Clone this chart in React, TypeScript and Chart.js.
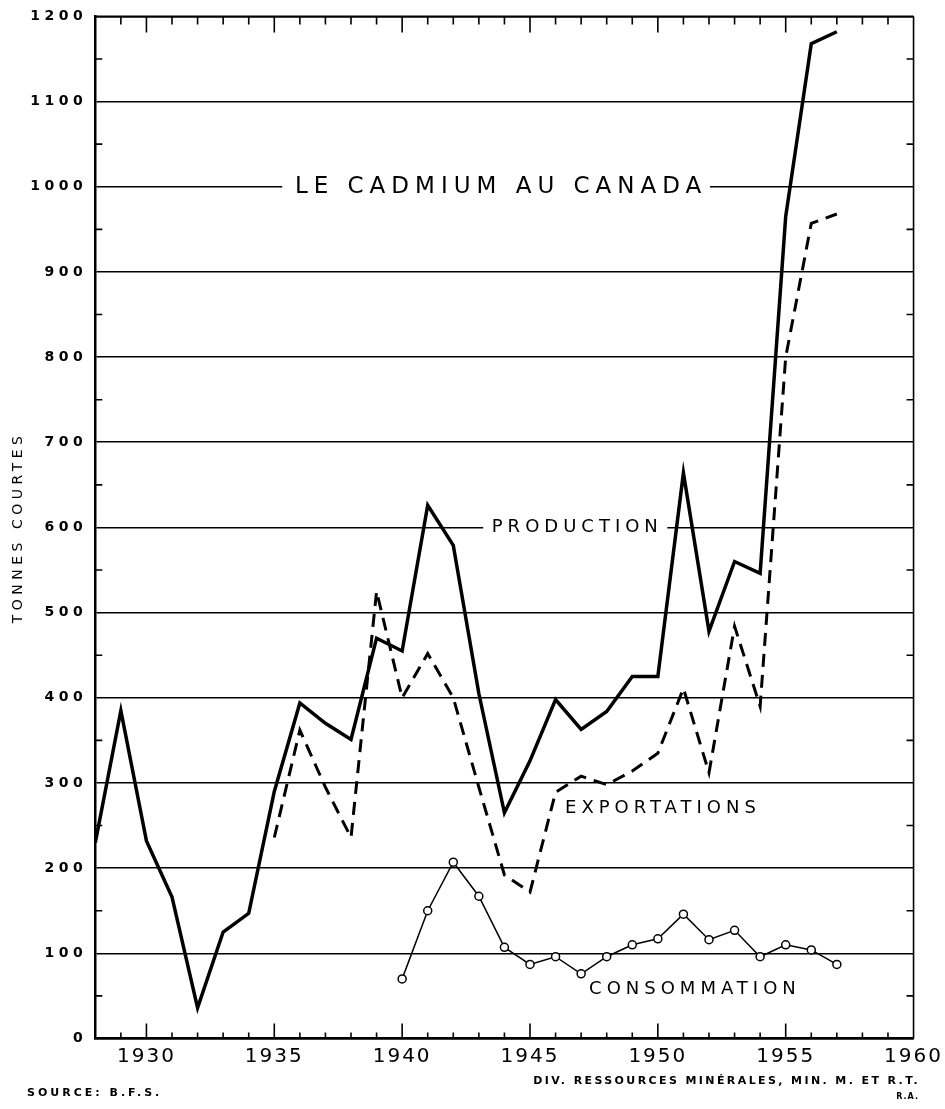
import React, { useEffect, useRef } from 'react';
import { Chart, registerables } from 'chart.js';

Chart.register(...registerables);

// ---- Data (short tons) ----
const productionYears = [1928, 1929, 1930, 1931, 1932, 1933, 1934, 1935, 1936, 1937, 1938, 1939, 1940, 1941, 1942, 1943, 1944, 1945, 1946, 1947, 1948, 1949, 1950, 1951, 1952, 1953, 1954, 1955, 1956, 1957];
const productionValues = [230, 385, 232, 166, 36, 125, 147, 290, 394, 370, 351, 470, 455, 626, 579, 405, 265, 326, 398, 363, 384, 425, 425, 664, 478, 560, 546, 965, 1168, 1182];

const exportYears = [1935, 1936, 1937, 1938, 1939, 1940, 1941, 1942, 1943, 1944, 1945, 1946, 1947, 1948, 1949, 1950, 1951, 1952, 1953, 1954, 1955, 1956, 1957];
const exportValues = [236, 362, 295, 236, 525, 400, 452, 400, 295, 192, 172, 289, 308, 298, 314, 335, 411, 312, 484, 390, 800, 957, 968];

const consumptionYears = [1940, 1941, 1942, 1943, 1944, 1945, 1946, 1947, 1948, 1949, 1950, 1951, 1952, 1953, 1954, 1955, 1956, 1957];
const consumptionValues = [70, 150, 207, 167, 107, 87, 96, 76, 96, 110, 117, 146, 116, 127, 96, 110, 104, 87];

const xMin = 1928;
const xMax = 1960;
const yMin = 0;
const yMax = 1200;
const yStep = 100;

const chartTitle = 'LE CADMIUM AU CANADA';
const yAxisTitle = 'TONNES COURTES';
const sourceText = 'SOURCE: B.F.S.';
const creditText = 'DIV. RESSOURCES MINÉRALES, MIN. M. ET R.T.';
const creditSub = 'R.A.';

// in-chart labels (anchored in data units)
const seriesLabels = [
  { text: chartTitle, x: 1943.87, y: 1000, size: 23, spacing: 6 },
  { text: 'PRODUCTION', x: 1946.85, y: 600, size: 18, spacing: 5 },
  { text: 'EXPORTATIONS', x: 1950.2, y: 270, size: 18, spacing: 5 },
  { text: 'CONSOMMATION', x: 1951.45, y: 58, size: 18, spacing: 5 },
];
// gridline interruptions behind labels
const gridGaps = [
  { y: 1000, from: 1935.31, to: 1952.04 },
  { y: 600, from: 1943.17, to: 1950.37 },
];

const toPoints = (xs: number[], ys: number[]) => xs.map((x, i) => ({ x, y: ys[i] }));

const FONT = '"DejaVu Sans", "Liberation Sans", sans-serif';

export default function App() {
  const ref = useRef<HTMLCanvasElement>(null);

  useEffect(() => {
    const canvas = ref.current;
    if (!canvas) return;

    const decor = {
      id: 'decor',
      beforeDraw(chart: any) {
        const sx = chart.scales.x;
        const sy = chart.scales.y;
        const patch = (s: any, sp: string) => {
          if (s.__patched) return;
          const origLabels = s.drawLabels.bind(s);
          s.drawLabels = (area: any) => {
            const c = s.ctx;
            c.save();
            c.letterSpacing = sp;
            origLabels(area);
            c.restore();
          };
          const origTitle = s.drawTitle.bind(s);
          s.drawTitle = () => {
            const c = s.ctx;
            c.save();
            c.letterSpacing = '4.5px';
            origTitle();
            c.restore();
          };
          s.__patched = true;
        };
        patch(sx, '2px');
        patch(sy, '4.5px');
      },
      beforeDatasetsDraw(chart: any) {
        const { ctx, scales } = chart;
        const x = scales.x;
        const y = scales.y;
        ctx.save();
        ctx.fillStyle = '#ffffff';
        gridGaps.forEach((g) => {
          const py = y.getPixelForValue(g.y);
          const x0 = x.getPixelForValue(g.from);
          const x1 = x.getPixelForValue(g.to);
          ctx.fillRect(x0, py - 2.5, x1 - x0, 5);
        });
        ctx.restore();
      },
      afterDatasetsDraw(chart: any) {
        const { ctx, chartArea, scales } = chart;
        const x = scales.x;
        const y = scales.y;
        const { left, right, top, bottom } = chartArea;
        ctx.save();
        ctx.strokeStyle = '#000';
        // top and right borders
        ctx.lineWidth = 2;
        ctx.beginPath();
        ctx.moveTo(left, top);
        ctx.lineTo(right, top);
        ctx.stroke();
        ctx.lineWidth = 1.6;
        ctx.beginPath();
        ctx.moveTo(right, top);
        ctx.lineTo(right, bottom);
        ctx.stroke();
        // yearly inward ticks, top and bottom
        ctx.lineWidth = 1.6;
        for (let yr = xMin + 1; yr < xMax; yr++) {
          const px = x.getPixelForValue(yr);
          const major = yr % 5 === 0;
          ctx.beginPath();
          ctx.moveTo(px, top);
          ctx.lineTo(px, top + (major ? 16 : 8));
          ctx.moveTo(px, bottom);
          ctx.lineTo(px, bottom - (major ? 15 : 6));
          ctx.stroke();
        }
        // half-step inward ticks, left and right
        for (let v = yMin + yStep / 2; v < yMax; v += yStep) {
          const py = y.getPixelForValue(v);
          ctx.beginPath();
          ctx.moveTo(left, py);
          ctx.lineTo(left + 7, py);
          ctx.moveTo(right, py);
          ctx.lineTo(right - 7, py);
          ctx.stroke();
        }
        // in-chart labels
        ctx.fillStyle = '#000';
        ctx.textAlign = 'center';
        ctx.textBaseline = 'middle';
        seriesLabels.forEach((l) => {
          ctx.font = `${l.size}px ${FONT}`;
          ctx.letterSpacing = `${l.spacing}px`;
          ctx.fillText(l.text, x.getPixelForValue(l.x), y.getPixelForValue(l.y));
        });
        ctx.restore();
      },
      afterDraw(chart: any) {
        const { ctx } = chart;
        ctx.save();
        ctx.fillStyle = '#000';
        ctx.textBaseline = 'middle';
        ctx.font = `bold 11px ${FONT}`;
        ctx.letterSpacing = '3px';
        ctx.textAlign = 'left';
        ctx.fillText(sourceText, 27, 1093);
        ctx.letterSpacing = '2.4px';
        ctx.textAlign = 'right';
        ctx.fillText(creditText, 920, 1081);
        ctx.font = `bold 8px ${FONT}`;
        ctx.letterSpacing = '1px';
        ctx.fillText(creditSub, 919, 1097);
        ctx.restore();
      },
    };

    const chart = new Chart(canvas, {
      type: 'line',
      data: {
        datasets: [
          {
            label: 'Production',
            data: toPoints(productionYears, productionValues),
            borderColor: '#000',
            borderWidth: 3.5,
            pointRadius: 0,
            tension: 0,
            fill: false,
          },
          {
            label: 'Exportations',
            data: toPoints(exportYears, exportValues),
            borderColor: '#000',
            borderWidth: 3,
            borderDash: [13, 8],
            pointRadius: 0,
            tension: 0,
            fill: false,
          },
          {
            label: 'Consommation',
            data: toPoints(consumptionYears, consumptionValues),
            borderColor: '#000',
            borderWidth: 1.5,
            pointRadius: 4,
            pointBackgroundColor: '#fff',
            pointBorderColor: '#000',
            pointBorderWidth: 1.5,
            tension: 0,
            fill: false,
          },
        ],
      },
      options: {
        responsive: false,
        animation: false,
        devicePixelRatio: 1,
        layout: { padding: { top: 13, right: 28, left: 0, bottom: 0 } },
        plugins: {
          legend: { display: false },
          tooltip: { enabled: false },
          title: { display: false },
        },
        scales: {
          x: {
            type: 'linear',
            min: xMin,
            max: xMax,
            afterFit: (s: any) => {
              s.height = 70.5;
            },
            grid: { display: false, drawTicks: false },
            border: { display: true, color: '#000', width: 2.5 },
            ticks: {
              stepSize: 1,
              autoSkip: false,
              maxRotation: 0,
              padding: 6,
              color: '#000',
              font: { family: FONT, size: 20 },
              callback: (v: any) => (Number(v) % 5 === 0 ? String(v) : ''),
            },
          },
          y: {
            type: 'linear',
            min: yMin,
            max: yMax,
            afterFit: (s: any) => {
              s.width = 95.3;
            },
            grid: { color: '#000', lineWidth: 1.6, drawTicks: false },
            border: { display: true, color: '#000', width: 2.5 },
            title: {
              display: true,
              text: yAxisTitle,
              color: '#000',
              font: { family: FONT, size: 14 },
              padding: { top: 10, bottom: 0 },
            },
            ticks: {
              stepSize: yStep,
              padding: 8,
              color: '#000',
              font: { family: FONT, size: 14, weight: 'bold' },
              callback: (v: any) => String(v),
            },
          },
        },
      },
      plugins: [decor],
    } as any);

    return () => chart.destroy();
  }, []);

  return (
    <div style={{ position: 'absolute', left: 0, top: 0, width: 945, height: 1109, background: '#fff' }}>
      <canvas ref={ref} width={945} height={1109} />
    </div>
  );
}
